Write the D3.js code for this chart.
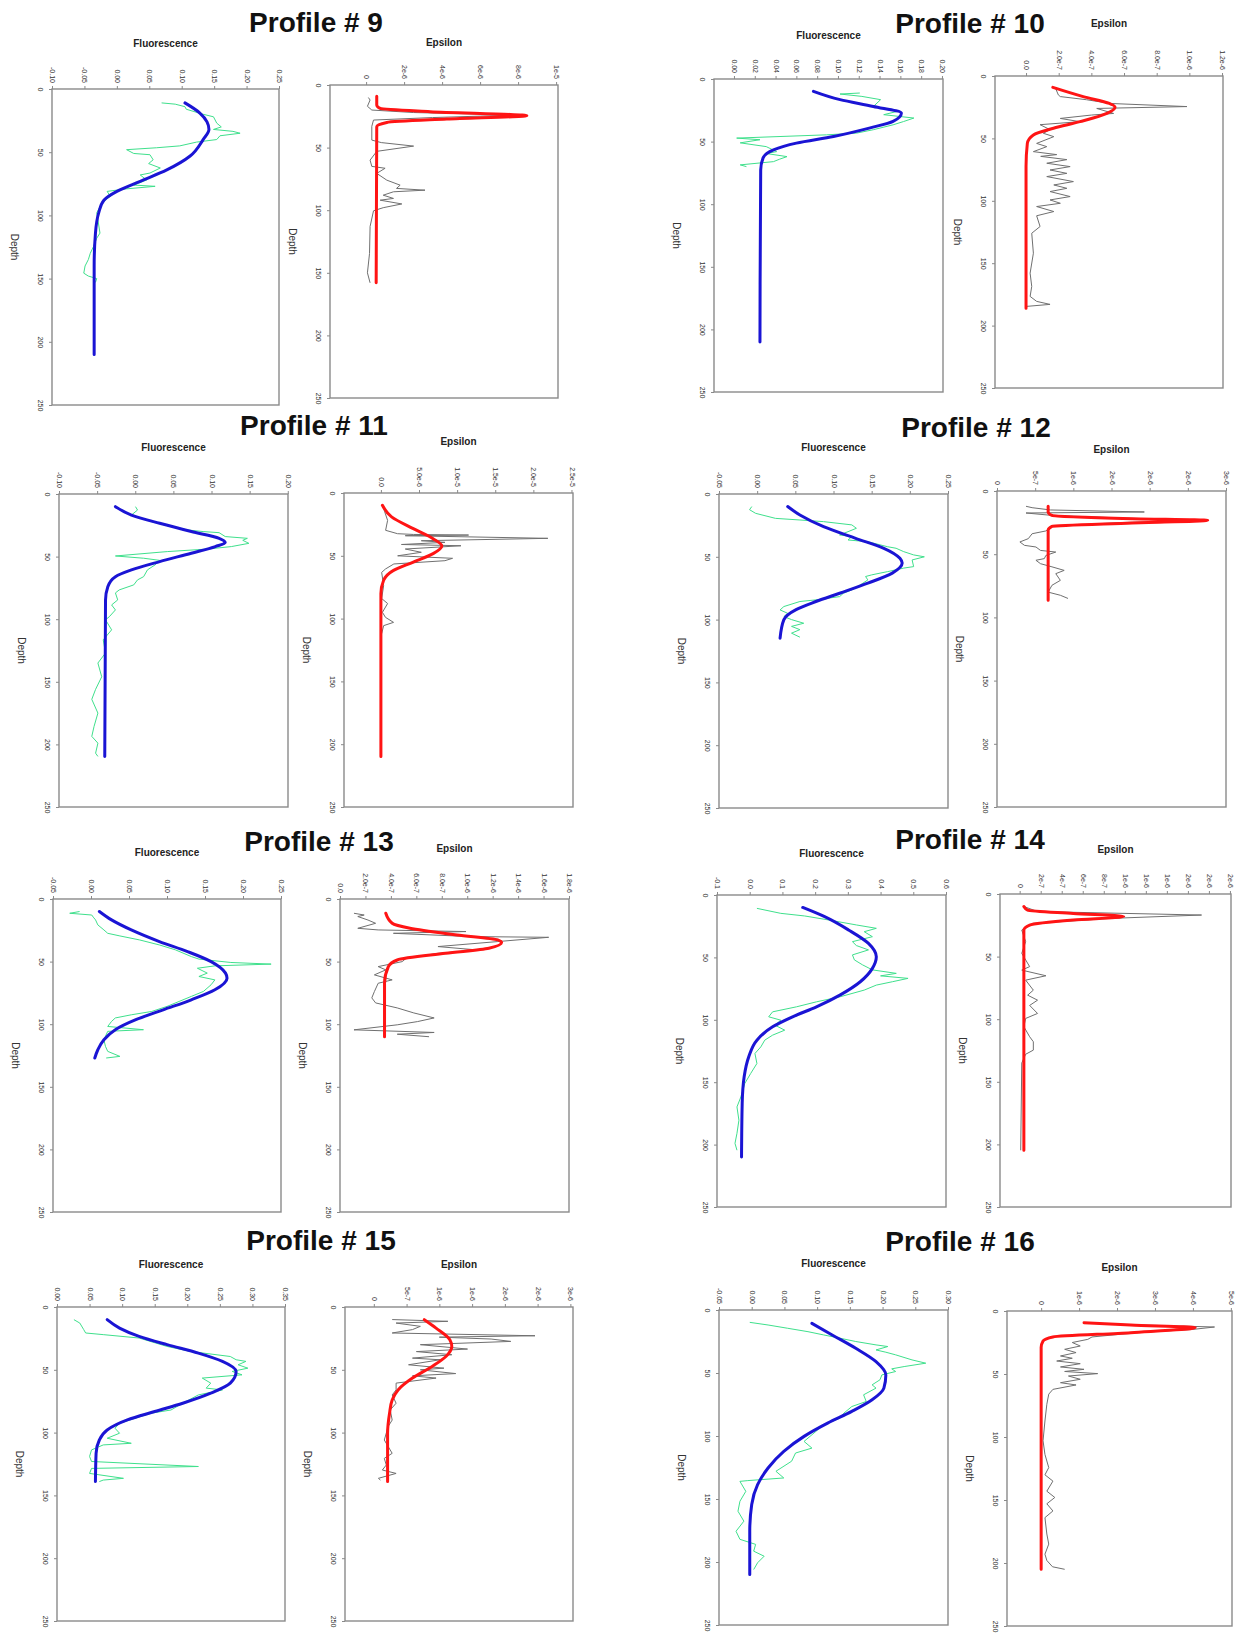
<!DOCTYPE html>
<html>
<head>
<meta charset="utf-8">
<script src="https://cdn.jsdelivr.net/npm/d3@7"></script>
<style>
  html, body { margin: 0; padding: 0; background: #fff; }
  svg { display: block; font-family: "Liberation Sans", Arial, Helvetica, sans-serif; }
</style>
</head>
<body>
<svg id="chart" width="1237" height="1634"></svg>
<script>
// ---------------- DATA ([depth, value]) ----------------
const profiles = [9, 10, 11, 12, 13, 14, 15, 16];
const depthTicks = [0, 50, 100, 150, 200, 250];

// Profile 9
const fluorRaw9 = [[11,0.069],[12,0.09],[14,0.105],[16,0.107],[20,0.133],[22,0.149],[27,0.154],[30,0.161],[32,0.149],[33.5,0.179],[35,0.19],[37,0.159],[40,0.154],[42,0.123],[45,0.097],[46.5,0.061],[48,0.015],[51,0.026],[52,0.051],[56,0.056],[59,0.049],[62.5,0.067],[66.5,0.051],[68,0.036],[72,0.046],[76,0.026],[77,0.059],[79,0.015],[81,-0.015],[85,-0.01],[88,-0.018],[93,-0.026],[98,-0.031],[114,-0.026],[118,-0.031],[124.6,-0.036],[130,-0.041],[135,-0.044],[140,-0.049],[145.7,-0.051],[148,-0.044],[150,-0.031],[153,-0.033]];
const fluorFit9 = [[11,0.105],[19,0.128],[26,0.139],[32,0.142],[40,0.133],[53,0.113],[64,0.077],[73,0.036],[81,0.0],[88,-0.02],[98,-0.028],[114,-0.033],[140,-0.035],[210,-0.035]];
const epsRaw9 = [[10,0.12e-6],[12,0.21e-6],[17,0.07e-6],[20,0.3e-6],[22,2.5e-6],[24,7.9e-6],[26,3.5e-6],[28,0.39e-6],[33,0.3e-6],[44,0.3e-6],[46,0.8e-6],[48.8,2.5e-6],[53,0.56e-6],[60,0.21e-6],[65,0.3e-6],[66.5,1.0e-6],[70.6,0.56e-6],[76,1.09e-6],[80,1.79e-6],[82.6,1.6e-6],[84,3.1e-6],[85.3,1.44e-6],[88,0.9e-6],[90.6,1.44e-6],[92,0.74e-6],[95,1.88e-6],[98,0.9e-6],[100.5,0.39e-6],[113,0.21e-6],[134.6,0.18e-6],[150,0.07e-6],[158,0.21e-6]];
const epsFit9 = [[9,0.56e-6],[16,0.56e-6],[18.7,0.74e-6],[21.3,3.37e-6],[24.5,8.46e-6],[27.2,4.25e-6],[29.9,1.09e-6],[33.3,0.56e-6],[158,0.53e-6]];

// Profile 10
const fluorRaw10 = [[11.2,0.121],[12,0.102],[13.9,0.123],[16.5,0.141],[22,0.134],[25.9,0.157],[28.5,0.144],[30,0.16],[31.2,0.173],[34,0.163],[36.6,0.153],[40.5,0.134],[43.2,0.118],[44.6,0.089],[47.2,0.0026],[48.5,0.025],[51,0.006],[54,0.031],[58,0.041],[59.5,0.031],[62,0.051],[64,0.044],[66,0.038],[68.6,0.006],[70,0.012]];
const fluorFit10 = [[9.9,0.0764],[16.5,0.102],[21.9,0.134],[27.2,0.161],[33.9,0.153],[39,0.131],[45.9,0.0957],[51.2,0.060],[56.6,0.038],[63,0.028],[72.6,0.0257],[210,0.025]];
const epsRaw10 = [[9,0.178e-6],[15.2,0.198e-6],[16.5,0.21e-6],[19,0.37e-6],[22,0.515e-6],[24.5,0.985e-6],[26,0.433e-6],[30,0.536e-6],[31.3,0.4e-6],[34,0.21e-6],[36.6,0.33e-6],[39,0.086e-6],[43,0.147e-6],[45.9,0.106e-6],[48.6,0.17e-6],[54,0.065e-6],[56.6,0.127e-6],[60.6,0.045e-6],[63,0.188e-6],[64.4,0.09e-6],[67,0.25e-6],[69.9,0.127e-6],[72.6,0.27e-6],[75.3,0.147e-6],[78,0.25e-6],[80.6,0.127e-6],[84.6,0.29e-6],[87.3,0.17e-6],[90,0.25e-6],[92.6,0.147e-6],[96.6,0.27e-6],[99.3,0.147e-6],[102,0.21e-6],[104.6,0.065e-6],[108.6,0.17e-6],[112,0.065e-6],[120.6,0.086e-6],[126,0.035e-6],[142,0.045e-6],[158,0.025e-6],[168.6,0.035e-6],[176.6,0.025e-6],[180.6,0.065e-6],[183,0.147e-6],[184.6,0.004e-6]];
const epsFit10 = [[9.1,0.164e-6],[16.5,0.35e-6],[22,0.51e-6],[25,0.545e-6],[30,0.495e-6],[36.6,0.33e-6],[41.9,0.168e-6],[47.2,0.045e-6],[54,0.008e-6],[72.6,0.0],[186,0.0]];

// Profile 11
const fluorRaw11 = [[10.1,0.0003],[12.8,0.003],[16.8,-0.005],[22,0.021],[26,0.047],[28.7,0.068],[30,0.089],[30.9,0.110],[34,0.118],[35.4,0.147],[37,0.141],[39.4,0.149],[42,0.126],[44,0.094],[46,0.042],[49.5,-0.026],[51.3,0.011],[53,0.032],[56.6,0.026],[60.6,0.016],[66,0.011],[68.6,0.003],[72.6,-0.002],[76.6,-0.021],[79,-0.026],[84.6,-0.023],[88.6,-0.031],[92.6,-0.026],[98,-0.034],[100.5,-0.039],[108.5,-0.031],[116.5,-0.042],[127,-0.039],[135,-0.049],[146,-0.044],[156,-0.052],[164,-0.057],[175,-0.049],[185.6,-0.054],[193.6,-0.057],[199,-0.049],[207,-0.052],[209.6,-0.049]];
const fluorFit11 = [[10.1,-0.026],[16.8,-0.005],[23.4,0.032],[30,0.0735],[35.4,0.110],[38.8,0.118],[42,0.105],[47.3,0.0735],[54,0.032],[60.6,-0.005],[66,-0.026],[74,-0.036],[84.6,-0.039],[209.6,-0.040]];
const epsRaw11 = [[9.8,0.02e-5],[15,0.05e-5],[21.8,0.088e-5],[29.7,0.062e-5],[32.4,0.218e-5],[33,0.425e-5],[33.5,1.15e-5],[34,0.32e-5],[36.1,2.19e-5],[38,0.53e-5],[39.3,0.84e-5],[41,0.27e-5],[42,1.05e-5],[44.6,0.32e-5],[47.2,0.53e-5],[50,0.22e-5],[52,0.94e-5],[53.9,0.84e-5],[56.5,0.17e-5],[60.5,0.06e-5],[63.2,0.01e-5],[73.8,0.036e-5],[84,0.01e-5],[88,0.088e-5],[95,0.02e-5],[99,0.06e-5],[103,0.166e-5],[105.6,0.036e-5],[112,0.01e-5]];
const epsFit11 = [[9.8,0.02e-5],[19,0.14e-5],[28.4,0.425e-5],[36.4,0.685e-5],[42.2,0.8e-5],[48.3,0.685e-5],[55,0.425e-5],[61.6,0.166e-5],[69.5,0.036e-5],[80,0],[209.7,0]];

// Profile 12
const fluorRaw12 = [[10,-0.007],[12.5,-0.010],[15.4,-0.002],[19.4,0.024],[20.7,0.056],[22,0.087],[24.6,0.124],[27.3,0.13],[30,0.119],[32.6,0.108],[34,0.124],[36.6,0.119],[38,0.145],[42,0.171],[43.2,0.182],[45.9,0.192],[48.5,0.205],[50,0.219],[52.5,0.203],[57.8,0.205],[59,0.192],[61.8,0.171],[63,0.161],[64.4,0.150],[65.7,0.142],[68.4,0.145],[72.4,0.135],[76.4,0.124],[79,0.113],[81.7,0.108],[84.3,0.077],[85.6,0.056],[89.6,0.035],[92.3,0.030],[95,0.040],[97.6,0.035],[100,0.045],[102.9,0.061],[105.4,0.045],[108,0.056],[110.8,0.045],[114,0.056]];
const fluorFit12 = [[10,0.040],[16.7,0.056],[26,0.087],[35.3,0.129],[43.2,0.166],[51.2,0.187],[55,0.190],[63,0.177],[71,0.145],[79,0.108],[85.6,0.077],[92,0.051],[100,0.035],[114.8,0.030]];
const epsRaw12 = [[12.1,0.38e-6],[13.2,0.46e-6],[15,0.7e-6],[16.6,1.93e-6],[17.4,0.38e-6],[19.3,0.72e-6],[21.5,1.7e-6],[23.2,2.71e-6],[25,1.6e-6],[28,0.72e-6],[31.6,0.64e-6],[33.8,0.46e-6],[37.7,0.41e-6],[40.3,0.30e-6],[43,0.36e-6],[44.3,0.51e-6],[47,0.57e-6],[48.3,0.77e-6],[51,0.64e-6],[53.5,0.62e-6],[54.8,0.51e-6],[57.5,0.57e-6],[60,0.72e-6],[62.8,0.88e-6],[65.4,0.77e-6],[70.7,0.83e-6],[74.6,0.72e-6],[80,0.67e-6],[82.5,0.83e-6],[85,0.93e-6]];
const epsFit12 = [[12.1,0.67e-6],[16.6,0.67e-6],[19.3,0.72e-6],[21.9,1.77e-6],[23.2,2.76e-6],[25.3,1.77e-6],[28,0.72e-6],[31.1,0.67e-6],[86.5,0.67e-6]];

// Profile 13
const fluorRaw13 = [[10,-0.015],[11.4,-0.028],[12.8,0.001],[14.5,0.003],[16.7,0.006],[20.7,0.009],[24.7,0.017],[27.4,0.022],[29.5,0.038],[32.7,0.064],[36.7,0.090],[40.6,0.111],[46,0.132],[48,0.142],[50.7,0.184],[52,0.237],[53.4,0.163],[55.3,0.140],[59.2,0.153],[61.9,0.142],[64.6,0.163],[68.5,0.158],[73.8,0.148],[77.8,0.132],[81.8,0.116],[85.8,0.100],[89.8,0.080],[92.5,0.053],[95,0.032],[97.8,0.027],[101.8,0.022],[104.4,0.069],[105.7,0.022],[112.4,0.017],[117.7,0.019],[121.7,0.022],[125.7,0.038],[127,0.02]];
const fluorFit13 = [[10,0.011],[16.7,0.027],[24.7,0.053],[34,0.090],[42,0.127],[50,0.158],[59.2,0.177],[63.2,0.179],[72.5,0.163],[80.5,0.132],[88.5,0.095],[96.4,0.059],[104.4,0.032],[112.4,0.017],[120.4,0.009],[127,0.005]];
const epsRaw13 = [[11.4,0.11e-6],[12.8,0.19e-6],[14,0.14e-6],[16.8,0.22e-6],[19.4,0.28e-6],[23.4,0.14e-6],[24.7,0.3e-6],[26,0.99e-6],[27.4,0.42e-6],[30,1.02e-6],[30.6,1.64e-6],[34,1.24e-6],[38,0.77e-6],[40.7,1.08e-6],[43.4,0.77e-6],[47.3,0.52e-6],[50,0.49e-6],[54,0.30e-6],[56.6,0.36e-6],[60.6,0.27e-6],[64.6,0.41e-6],[67.3,0.3e-6],[74,0.27e-6],[79,0.25e-6],[83,0.28e-6],[87,0.45e-6],[91,0.58e-6],[95,0.74e-6],[97.9,0.61e-6],[100.5,0.45e-6],[104.5,0.11e-6],[106.6,0.74e-6],[108,0.45e-6],[110,0.70e-6]];
const epsFit13 = [[11.4,0.36e-6],[19.4,0.41e-6],[23.4,0.55e-6],[28.7,0.92e-6],[32.7,1.24e-6],[34.8,1.27e-6],[39.4,1.17e-6],[43.4,0.83e-6],[48.7,0.45e-6],[54,0.38e-6],[67.3,0.35e-6],[110,0.35e-6]];

// Profile 14
const fluorRaw14 = [[10.7,0.022],[14.7,0.095],[16.8,0.168],[20,0.241],[24,0.326],[26.7,0.387],[29.4,0.350],[33.4,0.375],[37.4,0.314],[40.5,0.326],[44,0.363],[48,0.314],[52,0.320],[56,0.345],[60,0.375],[62.8,0.448],[64.8,0.40],[66.8,0.484],[69.5,0.436],[72.2,0.387],[76.2,0.350],[81.5,0.277],[85.6,0.204],[89.6,0.143],[93.6,0.070],[97.6,0.058],[100.3,0.095],[104.3,0.077],[108.3,0.107],[112.3,0.070],[116.3,0.046],[121.7,0.034],[127,0.016],[135,0.022],[143,0.003],[151,-0.015],[161.8,-0.027],[169.8,-0.039],[180.5,-0.033],[191,-0.039],[199,-0.045],[204.5,-0.039]];
const fluorFit14 = [[10,0.162],[17.4,0.229],[28,0.302],[38.8,0.363],[49.5,0.387],[58.8,0.375],[69.5,0.338],[80,0.277],[89.6,0.204],[97.6,0.131],[105.6,0.070],[116.3,0.022],[129.7,-0.003],[145.7,-0.017],[167,-0.023],[210,-0.025]];
const epsRaw14 = [[10,0.04e-6],[14,0.17e-6],[16.8,1.73e-6],[19.5,0.86e-6],[23.5,0.13e-6],[28.8,0.02e-6],[38,0.057e-6],[47.4,0.02e-6],[58,0.095e-6],[60.8,0.02e-6],[65.3,0.25e-6],[68.8,0.057e-6],[76.8,0.13e-6],[80.8,0.076e-6],[84.8,0.17e-6],[89,0.095e-6],[95.4,0.17e-6],[99.4,0.057e-6],[106,0.04e-6],[114,0.095e-6],[118,0.13e-6],[124.7,0.13e-6],[128,0.057e-6],[135,0.02e-6],[204.7,0.01e-6]];
const epsFit14 = [[10,0.04e-6],[12.8,0.076e-6],[15.5,0.51e-6],[18,0.99e-6],[20.8,0.51e-6],[24.8,0.095e-6],[28.8,0.04e-6],[204.7,0.04e-6]];

// Profile 15
const fluorRaw15 = [[10.1,0.026],[12.8,0.035],[18,0.041],[20.7,0.044],[22,0.071],[24.7,0.126],[31.4,0.169],[35.4,0.205],[39.4,0.266],[42,0.275],[43.3,0.290],[46,0.278],[48.7,0.293],[51.3,0.269],[54,0.284],[56.6,0.223],[60.6,0.236],[64.6,0.229],[66,0.254],[70,0.217],[76.6,0.193],[82,0.175],[84.6,0.144],[88.6,0.120],[92.6,0.096],[96.5,0.089],[100.5,0.096],[104.5,0.077],[108.5,0.114],[109.8,0.071],[113.8,0.053],[119,0.050],[123,0.053],[127,0.217],[128.5,0.053],[132.5,0.050],[136.4,0.102],[137.8,0.071],[139,0.065]];
const fluorFit15 = [[10.1,0.077],[16.8,0.096],[23.4,0.126],[30,0.169],[36.7,0.217],[43.3,0.254],[51.3,0.275],[60.6,0.266],[68.6,0.236],[76.6,0.193],[83.2,0.150],[89.9,0.108],[97.9,0.077],[105.9,0.065],[116.5,0.060],[139,0.059]];
const epsRaw15 = [[10,0.28e-6],[11.4,1.13e-6],[12.8,0.34e-6],[15.4,0.71e-6],[18,0.59e-6],[20.7,0.28e-6],[22.9,2.46e-6],[24,1.0e-6],[25.5,1.79e-6],[27.4,2.09e-6],[30,0.71e-6],[33.5,1.43e-6],[35.5,0.65e-6],[38,1.19e-6],[40.7,0.59e-6],[42,1.01e-6],[46,0.53e-6],[48.7,1.07e-6],[50,0.71e-6],[53,1.25e-6],[54.8,0.59e-6],[56.6,0.95e-6],[60.6,0.34e-6],[66,0.34e-6],[70,0.28e-6],[76.6,0.34e-6],[82,0.25e-6],[90,0.28e-6],[95,0.22e-6],[105.9,0.16e-6],[116.5,0.28e-6],[120.5,0.16e-6],[125.8,0.19e-6],[129.8,0.13e-6],[132.5,0.34e-6],[136.4,0.07e-6],[137.8,0.1e-6]];
const epsFit15 = [[10.1,0.77e-6],[16.8,0.95e-6],[26,1.16e-6],[31.4,1.19e-6],[39.4,1.10e-6],[47.3,0.89e-6],[56.6,0.59e-6],[66,0.37e-6],[74,0.28e-6],[84.6,0.24e-6],[100.5,0.21e-6],[139,0.21e-6]];

// Profile 16
const fluorRaw16 = [[9.8,-0.003],[11.9,0.025],[14.5,0.055],[17.2,0.086],[19.8,0.110],[22.4,0.135],[25,0.159],[27.7,0.190],[29,0.208],[31.7,0.190],[33.5,0.205],[35.6,0.220],[39.6,0.245],[42.2,0.266],[44.9,0.233],[46.7,0.214],[48.8,0.220],[51.5,0.199],[55.4,0.196],[59.4,0.184],[62,0.19],[67.3,0.171],[72.6,0.175],[76.6,0.153],[81.8,0.141],[85.8,0.135],[91,0.110],[96.4,0.098],[104.3,0.080],[109.6,0.092],[113.5,0.067],[120,0.061],[128,0.037],[133.3,0.049],[135.4,-0.006],[136,-0.018],[143.9,-0.009],[151.8,-0.018],[159.7,-0.021],[167.6,-0.012],[175.6,-0.024],[182,-0.018],[186,0.006],[191.4,0.003],[195.4,0.019],[200.6,0.009],[206,0.003]];
const fluorFit16 = [[10.6,0.092],[19.8,0.123],[30.4,0.159],[41,0.190],[51.5,0.205],[62,0.202],[71.3,0.184],[80.5,0.153],[89.8,0.116],[100.3,0.080],[112.2,0.049],[125.4,0.025],[138.6,0.009],[154.4,0.0],[175.6,-0.003],[210,-0.003]];
const epsRaw16 = [[9.5,1.15e-6],[11,2.5e-6],[12.7,4.57e-6],[14.6,4.0e-6],[17,2.6e-6],[20.6,1.34e-6],[22.5,1.23e-6],[25,0.82e-6],[27.8,1.03e-6],[30.4,0.62e-6],[33,0.92e-6],[35.7,0.51e-6],[37.5,0.82e-6],[39.7,0.41e-6],[41.8,1.03e-6],[44.4,0.51e-6],[46.3,1.13e-6],[48,0.62e-6],[49.7,1.49e-6],[51.6,0.72e-6],[54.2,1.03e-6],[56.9,0.51e-6],[58.7,0.92e-6],[62.2,0.31e-6],[66,0.2e-6],[74,0.15e-6],[87.3,0.1e-6],[103,0.05e-6],[113.8,0.1e-6],[124.3,0.2e-6],[130,0.1e-6],[135,0.31e-6],[143,0.15e-6],[148,0.36e-6],[153,0.15e-6],[158.7,0.31e-6],[164,0.1e-6],[177,0.15e-6],[185,0.2e-6],[193,0.1e-6],[198,0.15e-6],[203,0.3e-6],[205,0.62e-6]];
const epsFit16 = [[9.3,1.13e-6],[11.1,2.36e-6],[13.2,4.06e-6],[17.2,2.36e-6],[20.6,0.31e-6],[23.8,0.05e-6],[29,0.0],[205,0.0]];

// Tick values and labels (top axes)
const fluorTicks9  = [-0.10,-0.05,0,0.05,0.10,0.15,0.20,0.25];
const fluorLabels9 = ["-0.10","-0.05","0.00","0.05","0.10","0.15","0.20","0.25"];
const epsTicks9  = [0,2e-6,4e-6,6e-6,8e-6,1e-5];
const epsLabels9 = ["0","2e-6","4e-6","6e-6","8e-6","1e-5"];
const fluorTicks10  = [0,0.02,0.04,0.06,0.08,0.10,0.12,0.14,0.16,0.18,0.20];
const fluorLabels10 = ["0.00","0.02","0.04","0.06","0.08","0.10","0.12","0.14","0.16","0.18","0.20"];
const epsTicks10  = [0,2e-7,4e-7,6e-7,8e-7,1e-6,1.2e-6];
const epsLabels10 = ["0.0","2.0e-7","4.0e-7","6.0e-7","8.0e-7","1.0e-6","1.2e-6"];
const fluorTicks11  = [-0.10,-0.05,0,0.05,0.10,0.15,0.20];
const fluorLabels11 = ["-0.10","-0.05","0.00","0.05","0.10","0.15","0.20"];
const epsTicks11  = [0,5e-6,1e-5,1.5e-5,2e-5,2.5e-5];
const epsLabels11 = ["0.0","5.0e-6","1.0e-5","1.5e-5","2.0e-5","2.5e-5"];
const fluorTicks12  = [-0.05,0,0.05,0.10,0.15,0.20,0.25];
const fluorLabels12 = ["-0.05","0.00","0.05","0.10","0.15","0.20","0.25"];
const epsTicks12  = [0,5e-7,1e-6,1.5e-6,2e-6,2.5e-6,3e-6];
const epsLabels12 = ["0","5e-7","1e-6","2e-6","2e-6","2e-6","3e-6"];
const fluorTicks13  = [-0.05,0,0.05,0.10,0.15,0.20,0.25];
const fluorLabels13 = ["-0.05","0.00","0.05","0.10","0.15","0.20","0.25"];
const epsTicks13  = [0,2e-7,4e-7,6e-7,8e-7,1e-6,1.2e-6,1.4e-6,1.6e-6,1.8e-6];
const epsLabels13 = ["0.0","2.0e-7","4.0e-7","6.0e-7","8.0e-7","1.0e-6","1.2e-6","1.4e-6","1.6e-6","1.8e-6"];
const fluorTicks14  = [-0.1,0,0.1,0.2,0.3,0.4,0.5,0.6];
const fluorLabels14 = ["-0.1","0.0","0.1","0.2","0.3","0.4","0.5","0.6"];
const epsTicks14  = [0,2e-7,4e-7,6e-7,8e-7,1e-6,1.2e-6,1.4e-6,1.6e-6,1.8e-6,2e-6];
const epsLabels14 = ["0","2e-7","4e-7","6e-7","8e-7","1e-6","1e-6","1e-6","2e-6","2e-6","2e-6"];
const fluorTicks15  = [0,0.05,0.10,0.15,0.20,0.25,0.30,0.35];
const fluorLabels15 = ["0.00","0.05","0.10","0.15","0.20","0.25","0.30","0.35"];
const epsTicks15  = [0,5e-7,1e-6,1.5e-6,2e-6,2.5e-6,3e-6];
const epsLabels15 = ["0","5e-7","1e-6","1e-6","2e-6","2e-6","3e-6"];
const fluorTicks16  = [-0.05,0,0.05,0.10,0.15,0.20,0.25,0.30];
const fluorLabels16 = ["-0.05","0.00","0.05","0.10","0.15","0.20","0.25","0.30"];
const epsTicks16  = [0,1e-6,2e-6,3e-6,4e-6,5e-6];
const epsLabels16 = ["0","1e-6","2e-6","3e-6","4e-6","5e-6"];

// ---------------- LAYOUT (positions only) ----------------
const titleLayout = {
  9:[316,32], 10:[970,33], 11:[314,435], 12:[976,437],
  13:[319,851], 14:[970,849], 15:[321,1250], 16:[960,1251]
};
// [x0, x1, y0, y1, domainMin, domainMax, axisTitleY]
const panelLayout = {
  f9:[52,279,89,405,-0.10,0.25,43],     e9:[330,558,85,398,-1.9e-6,1.01e-5,42],
  f10:[714,943,79,392,-0.0192,0.201,35], e10:[995,1223,76,388,-1.9e-7,1.206e-6,23],
  f11:[59,288,494,807,-0.10,0.2003,447], e11:[344,573,493,807,-4.84e-6,2.52e-5,441],
  f12:[719,948,494,808,-0.05,0.25,447],  e12:[997,1226,491,807,0,3.0e-6,449],
  f13:[53,281,899,1212,-0.05,0.25,852],  e13:[340,569,899,1212,0,1.8e-6,848],
  f14:[717,946,895,1207,-0.1,0.6,853],   e14:[1000,1231,894,1207,-1.87e-7,2.01e-6,849],
  f15:[57,285,1307,1621,0,0.35,1264],    e15:[345,573,1307,1621,-4.4e-7,3.04e-6,1264],
  f16:[719,948,1310,1625,-0.05,0.30,1263], e16:[1007,1232,1311,1626,-0.9e-6,5.03e-6,1267]
};

const dataSets = {
  9:{fr:fluorRaw9, ff:fluorFit9, er:epsRaw9, ef:epsFit9, ft:fluorTicks9, fl:fluorLabels9, et:epsTicks9, el:epsLabels9},
  10:{fr:fluorRaw10, ff:fluorFit10, er:epsRaw10, ef:epsFit10, ft:fluorTicks10, fl:fluorLabels10, et:epsTicks10, el:epsLabels10},
  11:{fr:fluorRaw11, ff:fluorFit11, er:epsRaw11, ef:epsFit11, ft:fluorTicks11, fl:fluorLabels11, et:epsTicks11, el:epsLabels11},
  12:{fr:fluorRaw12, ff:fluorFit12, er:epsRaw12, ef:epsFit12, ft:fluorTicks12, fl:fluorLabels12, et:epsTicks12, el:epsLabels12},
  13:{fr:fluorRaw13, ff:fluorFit13, er:epsRaw13, ef:epsFit13, ft:fluorTicks13, fl:fluorLabels13, et:epsTicks13, el:epsLabels13},
  14:{fr:fluorRaw14, ff:fluorFit14, er:epsRaw14, ef:epsFit14, ft:fluorTicks14, fl:fluorLabels14, et:epsTicks14, el:epsLabels14},
  15:{fr:fluorRaw15, ff:fluorFit15, er:epsRaw15, ef:epsFit15, ft:fluorTicks15, fl:fluorLabels15, et:epsTicks15, el:epsLabels15},
  16:{fr:fluorRaw16, ff:fluorFit16, er:epsRaw16, ef:epsFit16, ft:fluorTicks16, fl:fluorLabels16, et:epsTicks16, el:epsLabels16}
};

const COLORS = { green:"#3fe08c", blue:"#1a14d4", red:"#ff1414", grey:"#707070", box:"#8a8a8a", text:"#333" };

// ---------------- DRAW ----------------
const svg = d3.select("#chart");
svg.append("rect").attr("width",1237).attr("height",1634).attr("fill","#fff");

function drawPanel(L, title, raw, fit, ticks, labels, rawColor, fitColor) {
  const [x0,x1,y0,y1,dmin,dmax,ty] = L;
  const x = d3.scaleLinear().domain([dmin,dmax]).range([x0,x1]);
  const y = d3.scaleLinear().domain([0,250]).range([y0,y1]);
  const g = svg.append("g");

  // top axis (value)
  const ax = g.append("g").attr("transform",`translate(0,${y0})`)
    .call(d3.axisTop(x).tickValues(ticks).tickFormat((d,i)=>labels[i]).tickSize(3).tickSizeOuter(0));
  ax.select(".domain").remove();
  ax.selectAll("line").attr("stroke",COLORS.box);
  ax.selectAll("text")
    .attr("x",null).attr("y",null).attr("dy","0.35em")
    .attr("transform","translate(0,-6) rotate(90)")
    .attr("text-anchor","end")
    .attr("font-size",7).attr("fill",COLORS.text).attr("font-family",null);

  // left axis (depth)
  const ay = g.append("g").attr("transform",`translate(${x0},0)`)
    .call(d3.axisLeft(y).tickValues(depthTicks).tickFormat(d3.format("d")).tickSize(3).tickSizeOuter(0));
  ay.select(".domain").remove();
  ay.selectAll("line").attr("stroke",COLORS.box);
  ay.selectAll("text")
    .attr("x",null).attr("y",null).attr("dy","0.35em")
    .attr("transform","translate(-12,0) rotate(90)")
    .attr("text-anchor","middle")
    .attr("font-size",7).attr("fill",COLORS.text).attr("font-family",null);

  // box
  g.append("rect").attr("x",x0).attr("y",y0).attr("width",x1-x0).attr("height",y1-y0)
    .attr("fill","none").attr("stroke",COLORS.box).attr("stroke-width",1.4);

  // titles
  g.append("text").attr("x",(x0+x1)/2).attr("y",ty).attr("dy","0.35em")
    .attr("text-anchor","middle").attr("font-size",10).attr("font-weight","bold")
    .attr("fill","#222").text(title);
  g.append("text").attr("transform",`translate(${x0-38},${(y0+y1)/2}) rotate(90)`)
    .attr("dy","0.35em").attr("text-anchor","middle").attr("font-size",10)
    .attr("fill","#333").text("Depth");

  const rawLine = d3.line().x(d=>x(d[1])).y(d=>y(d[0]));
  const fitLine = d3.line().x(d=>x(d[1])).y(d=>y(d[0])).curve(d3.curveMonotoneY);

  g.append("path").datum(raw).attr("d",rawLine).attr("fill","none")
    .attr("stroke",rawColor).attr("stroke-width",1).attr("stroke-linejoin","round");
  g.append("path").datum(fit).attr("d",fitLine).attr("fill","none")
    .attr("stroke",fitColor).attr("stroke-width",3).attr("stroke-linejoin","round").attr("stroke-linecap","round");
}

profiles.forEach(p => {
  const D = dataSets[p];
  const [tx,tyy] = titleLayout[p];
  svg.append("text").attr("x",tx).attr("y",tyy).attr("text-anchor","middle")
    .attr("font-size",28).attr("font-weight","bold").attr("fill","#111")
    .text("Profile # " + p);
  drawPanel(panelLayout["f"+p], "Fluorescence", D.fr, D.ff, D.ft, D.fl, COLORS.green, COLORS.blue);
  drawPanel(panelLayout["e"+p], "Epsilon", D.er, D.ef, D.et, D.el, COLORS.grey, COLORS.red);
});
</script>
</body>
</html>
